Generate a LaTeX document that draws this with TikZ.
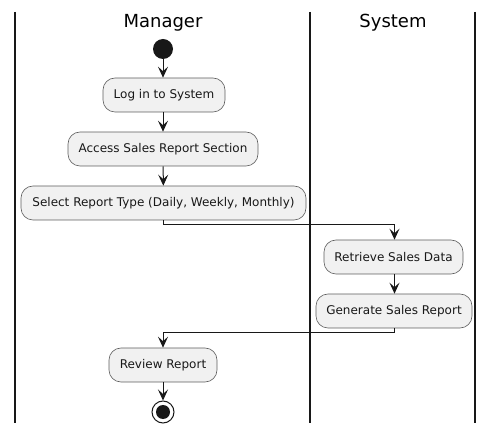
\documentclass[tikz,border=0pt]{standalone}
\usepackage{fontspec}
\setmainfont{DejaVu Sans}
\usetikzlibrary{arrows.meta}
\definecolor{boxfill}{HTML}{F1F1F1}
\definecolor{ink}{HTML}{181818}
\tikzset{
  act/.style={draw=ink!70, line width=0.6pt, fill=boxfill, rounded corners=12pt,
    minimum height=34pt, inner sep=0pt, font=\fontsize{12}{14}\selectfont, text=ink},
  flow/.style={draw=ink, line width=1pt, -{Stealth[length=11pt,width=10pt,inset=4.5pt]}},
  lane/.style={draw=ink, line width=1.5pt},
  lanetitle/.style={font=\fontsize{18}{21}\selectfont, text=black}
}
\begin{document}
\begin{tikzpicture}[x=1pt,y=-1pt]
\useasboundingbox (0,0) rectangle (495,435);
% swimlanes
\draw[lane] (15,12) -- (15,423);
\draw[lane] (310,12) -- (310,423);
\draw[lane] (475,12) -- (475,423);
\node[lanetitle] (tm) at (163,23) {Manager};
\node[lanetitle] (ts) at (393,23) {System};
% start
\node[circle, fill=ink, minimum size=20pt, inner sep=0pt] (start) at (163,49) {};
\node[act, minimum width=122pt] (login) at (164,95) {Log in to System};
\node[act, minimum width=190pt] (access) at (163,149) {Access Sales Report Section};
\node[act, minimum width=285pt] (select) at (163.5,203) {Select Report Type (Daily, Weekly, Monthly)};
\node[act, minimum width=139pt] (retr) at (393.5,257) {Retrieve Sales Data};
\node[act, minimum width=156pt] (gen) at (394,311) {Generate Sales Report};
\node[act, minimum width=108pt] (review) at (163,365) {Review Report};
\node[circle, draw=ink, line width=1pt, fill=white, minimum size=22pt, inner sep=0pt] (stop) at (163,412) {};
\node[circle, fill=ink, minimum size=14pt, inner sep=0pt] (stopin) at (163,412) {};
% flows
\draw[flow] (start) -- (login.north -| start);
\draw[flow] (login.south -| start) -- (access.north -| start);
\draw[flow] (access) -- (select);
\coordinate (c1) at (163,225);
\coordinate (c2) at (394.5,225);
\draw[flow] (select.south -| c1) -- (c1) -- (c2) -- (retr.north -| c2);
\draw[flow] (retr.south -| c2) -- (gen.north -| c2);
\coordinate (c3) at (394.5,333);
\coordinate (c4) at (163,333);
\draw[flow] (gen.south -| c3) -- (c3) -- (c4) -- (review.north -| c4);
\draw[flow] (review) -- (stop);
\end{tikzpicture}
\end{document}
